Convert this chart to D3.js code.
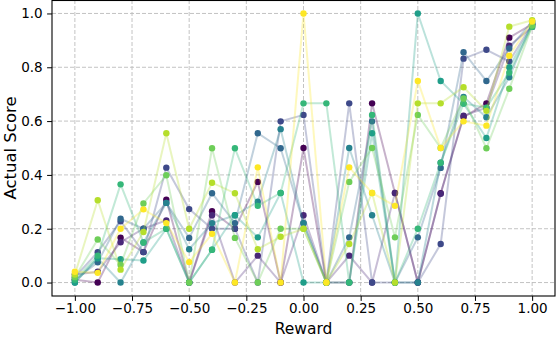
<!DOCTYPE html>
<html>
<head>
<meta charset="utf-8" />
<title>Actual Score vs Reward</title>
<script src="https://d3js.org/d3.v7.min.js"></script>
<style>
  body { margin: 0; background: #fff; }
  svg text { font-family: "DejaVu Sans", sans-serif; fill: #000; }
</style>
</head>
<body>
<svg id="chart" width="556" height="338"></svg>
<script>
// x positions (reward)
var rewards = [-1.0, -0.9, -0.8, -0.7, -0.6, -0.5, -0.4, -0.3, -0.2, -0.1, 0.0,
               0.1, 0.2, 0.3, 0.4, 0.5, 0.6, 0.7, 0.8, 0.9, 1.0];

// one array per run, colored along viridis (dark -> yellow)
var run0 = [0.01, 0.0, 0.167, 0.113, 0.308, 0.0, 0.265, 0.2, 0.374, 0.0, 0.5, 0.0, 0.0, 0.666, 0.333, 0.0, 0.332, 0.615, 0.666, 0.91, 0.96];
var run1 = [0.03, 0.04, 0.15, 0.2, 0.231, 0.0, 0.25, 0.0, 0.1, 0.0, 0.25, 0.0, 0.1, 0.0, 0.333, 0.0, 0.33, 0.62, 0.65, 0.88, 0.95];
var run2 = [0.02, 0.113, 0.228, 0.113, 0.427, 0.273, 0.2, 0.2, 0.0, 0.599, 0.623, 0.0, 0.666, 0.0, 0.0, 0.0, 0.143, 0.832, 0.865, 0.822, 0.96];
var run3 = [0.01, 0.075, 0.237, 0.2, 0.296, 0.166, 0.332, 0.221, 0.555, 0.499, 0.221, 0.0, 0.168, 0.599, 0.0, 0.168, 0.426, 0.856, 0.749, 0.87, 0.97];
var run4 = [0.0, 0.09, 0.0, 0.149, 0.296, 0.124, 0.221, 0.25, 0.30, 0.57, 0.221, 0.0, 0.5, 0.25, 0.0, 0.0, 0.445, 0.69, 0.614, 0.763, 0.965];
var run5 = [0.0, 0.09, 0.087, 0.082, 0.2, 0.0, 0.122, 0.25, 0.168, 0.333, 0.0, 0.0, 0.0, 0.555, 0.0, 1.0, 0.749, 0.665, 0.537, 0.8, 0.955];
var run6 = [0.01, 0.1, 0.365, 0.149, 0.2, 0.0, 0.122, 0.499, 0.285, 0.333, 0.666, 0.666, 0.0, 0.623, 0.0, 0.2, 0.445, 0.665, 0.65, 0.78, 0.95];
var run7 = [0.02, 0.16, 0.066, 0.294, 0.399, 0.0, 0.499, 0.166, 0.0, 0.2, 0.2, 0.0, 0.374, 0.5, 0.168, 0.623, 0.5, 0.684, 0.499, 0.72, 0.955];
var run8 = [0.03, 0.306, 0.048, 0.188, 0.555, 0.2, 0.371, 0.332, 0.124, 0.17, 0.2, 0.0, 0.143, 0.333, 0.0, 0.666, 0.666, 0.726, 0.638, 0.951, 0.975];
var run9 = [0.04, 0.036, 0.2, 0.272, 0.221, 0.076, 0.181, 0.0, 0.428, 0.0, 1.0, 0.0, 0.428, 0.333, 0.285, 0.749, 0.5, 0.599, 0.583, 0.843, 0.97];
var runs = [run0, run1, run2, run3, run4, run5, run6, run7, run8, run9];

var xTicks = [-1.0, -0.75, -0.5, -0.25, 0.0, 0.25, 0.5, 0.75, 1.0];
var yTicks = [0.0, 0.2, 0.4, 0.6, 0.8, 1.0];

var svg = d3.select("#chart"),
    margin = { top: 0, right: 1, bottom: 42, left: 52 },
    width = +svg.attr("width") - margin.left - margin.right,
    height = +svg.attr("height") - margin.top - margin.bottom;

var scaleX = d3.scaleLinear().domain([-1.1, 1.1]).range([0, width]);
var scaleY = d3.scaleLinear().domain([-0.05, 1.05]).range([height, 0]);

var g = svg.append("g")
    .attr("transform", "translate(" + margin.left + "," + margin.top + ")");

// grid
g.append("g").selectAll("line").data(xTicks).enter().append("line")
    .attr("x1", function (d) { return scaleX(d); })
    .attr("x2", function (d) { return scaleX(d); })
    .attr("y1", 0).attr("y2", height)
    .attr("stroke", "#bcbcbc").attr("stroke-width", 0.9)
    .attr("stroke-dasharray", "4,2");
g.append("g").selectAll("line").data(yTicks).enter().append("line")
    .attr("y1", function (d) { return scaleY(d); })
    .attr("y2", function (d) { return scaleY(d); })
    .attr("x1", 0).attr("x2", width)
    .attr("stroke", "#bcbcbc").attr("stroke-width", 0.9)
    .attr("stroke-dasharray", "4,2");

var line = d3.line()
    .x(function (d, i) { return scaleX(rewards[i]); })
    .y(function (d) { return scaleY(d); });

runs.forEach(function (run, k) {
    var color = d3.interpolateViridis(k / (runs.length - 1));
    var s = g.append("g");
    s.append("path")
        .datum(run)
        .attr("fill", "none")
        .attr("stroke", color)
        .attr("stroke-opacity", 0.3)
        .attr("stroke-width", 2)
        .attr("d", line);
    s.selectAll("circle").data(run).enter().append("circle")
        .attr("cx", function (d, i) { return scaleX(rewards[i]); })
        .attr("cy", function (d) { return scaleY(d); })
        .attr("r", 3.2)
        .attr("fill", color);
});

// axes
var xAxis = d3.axisBottom(scaleX).tickValues(xTicks).tickSize(4.9).tickPadding(3)
    .tickFormat(function (d) { return d3.format(".2f")(d).replace("-", "\u2212"); });
var yAxis = d3.axisLeft(scaleY).tickValues(yTicks).tickSize(4.9).tickPadding(4.5)
    .tickFormat(d3.format(".1f"));

var gx = g.append("g")
    .attr("transform", "translate(0," + height + ")")
    .call(xAxis);
var gy = g.append("g").call(yAxis);

[gx, gy].forEach(function (a) {
    a.select(".domain").remove();
    a.selectAll("line").attr("stroke", "#000").attr("stroke-width", 1);
    a.selectAll("text").attr("font-size", "13.5px")
        .attr("font-family", "DejaVu Sans, sans-serif").attr("fill", "#000");
});

// frame
g.append("rect")
    .attr("x", 0).attr("y", 0.5)
    .attr("width", width).attr("height", height - 0.5)
    .attr("fill", "none").attr("stroke", "#000").attr("stroke-width", 1.1);

// labels
svg.append("text")
    .attr("x", margin.left + width / 2).attr("y", 334)
    .attr("text-anchor", "middle").attr("font-size", "15.5px")
    .text("Reward");
svg.append("text")
    .attr("transform", "translate(16," + (margin.top + height / 2) + ") rotate(-90)")
    .attr("text-anchor", "middle").attr("font-size", "16.5px")
    .text("Actual Score");
</script>
</body>
</html>
